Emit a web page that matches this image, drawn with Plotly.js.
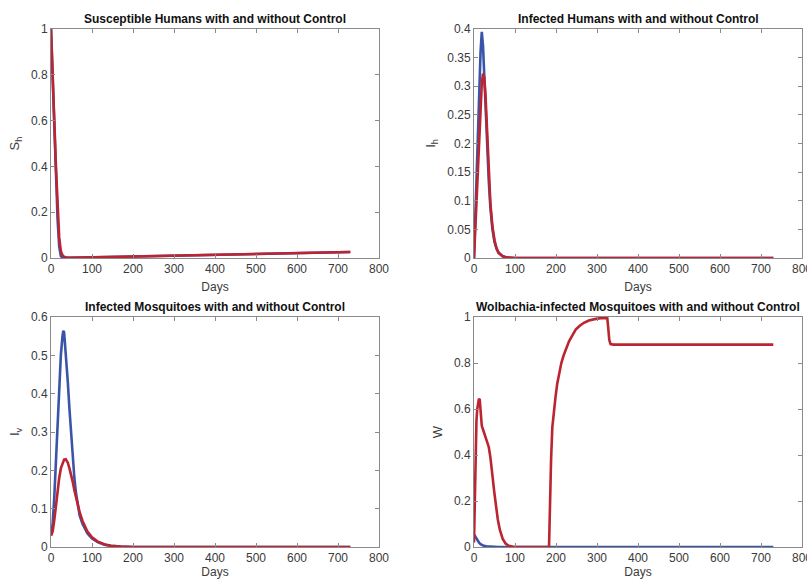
<!DOCTYPE html>
<html>
<head>
<meta charset="utf-8">
<script src="https://cdn.plot.ly/plotly-3.0.1.min.js"></script>
<style>html,body{margin:0;padding:0;background:#fff;}#chart{width:807px;height:579px;}</style>
</head>
<body>
<div id="chart"></div>
<script>
// ---- Data ----
const panelTitles = [
  "Susceptible Humans with and without Control",
  "Infected Humans with and without Control",
  "Infected Mosquitoes with and without Control",
  "Wolbachia-infected Mosquitoes with and without Control"
];
const yLabels = ["S<sub>h</sub>", "I<sub>h</sub>", "I<sub>v</sub>", "W"];
const xLabel = "Days";
const xTicks = [0, 100, 200, 300, 400, 500, 600, 700, 800];

// Susceptible humans
const daysSh = [0, 3, 8, 12, 16, 20, 24, 28, 32, 36, 40, 50, 100, 200, 300, 400, 500, 600, 730];
const ShWithout = [1, 0.82, 0.6, 0.38, 0.17, 0.05, 0.008, 0.002, 0.001, 0.001, 0.001, 0.001, 0.003, 0.0065, 0.01, 0.014, 0.018, 0.022, 0.026];
const ShWith    = [1, 0.82, 0.6, 0.40, 0.20, 0.09, 0.03, 0.012, 0.005, 0.002, 0.001, 0.001, 0.003, 0.0065, 0.01, 0.014, 0.018, 0.022, 0.026];

// Infected humans
const daysIh = [0, 4, 8, 12, 16, 19, 22, 25, 28, 32, 36, 40, 45, 50, 55, 60, 70, 80, 100, 150, 730];
const IhWithout = [0, 0.09, 0.185, 0.28, 0.36, 0.395, 0.37, 0.32, 0.26, 0.195, 0.135, 0.088, 0.05, 0.028, 0.016, 0.009, 0.003, 0.001, 0, 0, 0];
const IhWith    = [0, 0.065, 0.135, 0.2, 0.265, 0.305, 0.322, 0.315, 0.285, 0.215, 0.148, 0.095, 0.055, 0.031, 0.017, 0.009, 0.003, 0.001, 0, 0, 0];

// Infected mosquitoes
const daysIv = [0, 4, 8, 12, 16, 20, 24, 28, 30, 32, 36, 41, 45, 49, 53, 57, 61, 65, 70, 77, 83, 89, 100, 114, 130, 146, 170, 200, 730];
const IvWithout = [0.03, 0.06, 0.13, 0.23, 0.34, 0.43, 0.5, 0.55, 0.564, 0.56, 0.51, 0.43, 0.36, 0.296, 0.235, 0.18, 0.14, 0.108, 0.082, 0.06, 0.046, 0.035, 0.022, 0.013, 0.006, 0.003, 0.001, 0, 0];
const IvWith    = [0.03, 0.04, 0.07, 0.11, 0.15, 0.18, 0.205, 0.22, 0.225, 0.228, 0.229, 0.22, 0.205, 0.19, 0.17, 0.148, 0.128, 0.109, 0.09, 0.068, 0.052, 0.04, 0.025, 0.014, 0.007, 0.003, 0.001, 0, 0];

// Wolbachia-infected mosquitoes
const daysWwithout = [0, 2, 5, 8, 12, 16, 20, 24, 30, 40, 60, 100, 730];
const WWithout = [0.05, 0.05, 0.04, 0.03, 0.02, 0.012, 0.008, 0.005, 0.003, 0.001, 0, 0, 0];
const daysWwith = [0, 2, 4, 6, 8, 10, 12, 14, 16, 19, 24, 28, 32, 36, 40, 43, 45, 49, 53, 58, 63, 70, 77, 85, 95, 110, 150, 183, 184, 186, 188, 191, 195, 199, 203, 207, 213, 219, 225, 232, 240, 248, 258, 268, 280, 290, 300, 310, 325, 327, 330, 333, 340, 400, 500, 600, 730];
const WWith = [0.02, 0.25, 0.44, 0.55, 0.6, 0.625, 0.645, 0.64, 0.58, 0.527, 0.5, 0.48, 0.455, 0.435, 0.39, 0.35, 0.31, 0.245, 0.18, 0.12, 0.075, 0.035, 0.015, 0.005, 0.001, 0, 0, 0, 0.1, 0.25, 0.38, 0.52, 0.6, 0.655, 0.71, 0.75, 0.8, 0.835, 0.865, 0.895, 0.92, 0.945, 0.962, 0.975, 0.985, 0.99, 0.993, 0.995, 0.996, 0.96, 0.9, 0.882, 0.88, 0.88, 0.88, 0.88, 0.88];

const yRanges = [[0, 1], [0, 0.4], [0, 0.6], [0, 1]];
const yDticks = [0.2, 0.05, 0.1, 0.2];

// ---- Styles ----
const blue = '#3a55a8';
const red = '#bb2430';
const lw = 2.6;
const fontFam = 'Liberation Sans, Arial, Helvetica, sans-serif';

function tr(x, y, color, ax) {
  return {x: x, y: y, type: 'scatter', mode: 'lines', line: {color: color, width: lw},
          xaxis: 'x' + (ax === 1 ? '' : ax), yaxis: 'y' + (ax === 1 ? '' : ax), showlegend: false, hoverinfo: 'skip'};
}

const data = [
  tr(daysSh, ShWithout, blue, 1), tr(daysSh, ShWith, red, 1),
  tr(daysIh, IhWithout, blue, 2), tr(daysIh, IhWith, red, 2),
  tr(daysIv, IvWithout, blue, 3), tr(daysIv, IvWith, red, 3),
  tr(daysWwithout, WWithout, blue, 4), tr(daysWwith, WWith, red, 4)
];

const W = 807, H = 579;
const xDomL = [51 / W, 379 / W], xDomR = [474 / W, 802 / W];
const yDomT = [1 - 258 / H, 1 - 29 / H], yDomB = [1 - 547 / H, 1 - 317 / H];
const xDoms = [xDomL, xDomR, xDomL, xDomR];
const yDoms = [yDomT, yDomT, yDomB, yDomB];

const axCommon = {
  showline: true, mirror: 'ticks', linecolor: '#8a8a8a', linewidth: 1,
  ticks: 'inside', ticklen: 4, tickcolor: '#8a8a8a', tickwidth: 1,
  showgrid: false, zeroline: false, ticklabeloverflow: 'allow',
  tickfont: {family: fontFam, size: 12, color: '#3a3a3a'}
};

const layout = {
  width: W, height: H,
  margin: {l: 0, r: 0, t: 0, b: 0},
  paper_bgcolor: '#fff', plot_bgcolor: '#fff',
  font: {family: fontFam, size: 12, color: '#222'},
  annotations: []
};

for (let i = 0; i < 4; i++) {
  const s = i === 0 ? '' : String(i + 1);
  layout['xaxis' + s] = Object.assign({}, axCommon, {
    domain: xDoms[i], anchor: 'y' + s, range: [0, 800],
    tickmode: 'array', tickvals: xTicks, ticktext: xTicks.map(String),
    title: {text: xLabel, font: {family: fontFam, size: 12, color: '#3a3a3a'}, standoff: 7}
  });
  layout['yaxis' + s] = Object.assign({}, axCommon, {
    domain: yDoms[i], anchor: 'x' + s, range: yRanges[i],
    tick0: 0, dtick: yDticks[i],
    title: {text: yLabels[i], font: {family: fontFam, size: 13, color: '#3a3a3a'}, standoff: 8}
  });
  layout.annotations.push({
    xref: 'paper', yref: 'paper',
    x: (xDoms[i][0] + xDoms[i][1]) / 2, y: yDoms[i][1] + 10 / H,
    xanchor: 'center', yanchor: 'middle', showarrow: false,
    text: '<b>' + panelTitles[i] + '</b>',
    font: {family: fontFam, size: 12, color: '#111'}
  });
}

Plotly.newPlot('chart', data, layout, {staticPlot: true, displayModeBar: false});
</script>
</body>
</html>
